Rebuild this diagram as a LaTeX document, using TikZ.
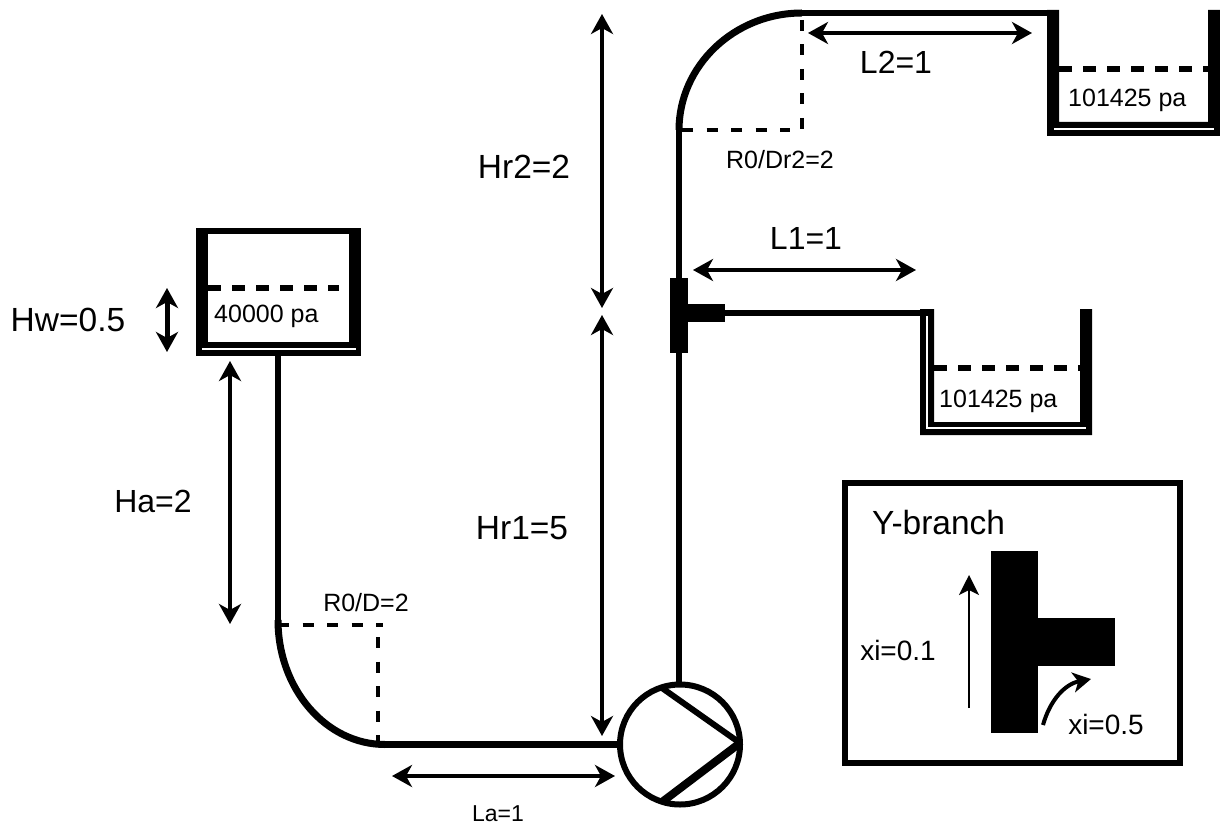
\documentclass[tikz,border=0pt]{standalone}
\usepackage{fontspec}
\setmainfont{Liberation Sans}
\usetikzlibrary{arrows.meta}
\tikzset{
  pipe/.style={line width=6.5pt,line cap=butt},
  bendpipe/.style={line width=7pt,line cap=butt},
  wall/.style={fill=black},
  gapline/.style={draw=white,line width=1.6pt},
  level/.style={line width=6pt,dash pattern=on 13pt off 11pt},
  guide/.style={line width=3.2pt,dash pattern=on 11pt off 13.5pt},
  dimbig/.style={line width=5pt,{Stealth[length=20pt,width=22pt,inset=6pt]}-{Stealth[length=20pt,width=22pt,inset=6pt]}},
  dimmid/.style={line width=3.6pt,{Stealth[length=20pt,width=22pt,inset=6pt]}-{Stealth[length=20pt,width=22pt,inset=6pt]}},
  big/.style={inner sep=0pt,font=\fontsize{32}{36}\selectfont},
  bigger/.style={inner sep=0pt,font=\fontsize{33.5}{38}\selectfont},
  mid/.style={inner sep=0pt,font=\fontsize{28}{32}\selectfont},
  small/.style={inner sep=0pt,font=\fontsize{25}{30}\selectfont},
  tiny/.style={inner sep=0pt,font=\fontsize{23}{28}\selectfont},
}
\begin{document}
\begin{tikzpicture}[x=1pt,y=-1pt]
\useasboundingbox (0,0) rectangle (1220,826);
% coordinates
\coordinate (tankout) at (278,356);
\coordinate (bendA) at (278,620);
\coordinate (bendB) at (385,744.5);
\coordinate (teeLow) at (679,353);
\coordinate (teeTop) at (679,278);
\coordinate (bendC) at (679,130);
\coordinate (bendD) at (802,13);
\coordinate (teeSide) at (725,313);
\coordinate (lowTank) at (934,313);
\coordinate (highTank) at (1047,13);
% left tank
\fill[wall] (196,228) rectangle (361,356);
\fill[white] (208,234) rectangle (349,342);
\draw[gapline] (202,349) -- (356,349);
\draw[level] (208,288) -- (339,288);
\node[small,anchor=west] (pL) at (214,316) {40000 pa};
% lower right tank
\fill[wall] (920,309) -- (934,309) -- (934,422) -- (1080,422) -- (1080,309) -- (1092,309) -- (1092,435) -- (920,435) -- cycle;
\draw[gapline] (927,316) -- (927,428) -- (1086,428);
\draw[level] (934,368) -- (1080,368);
\node[small,anchor=west] (pM) at (939,401) {101425 pa};
% upper right tank
\fill[wall] (1047,10) -- (1059,10) -- (1059,122) -- (1208,122) -- (1208,10) -- (1220,10) -- (1220,136) -- (1047,136) -- cycle;
\draw[gapline] (1054,129) -- (1214,129);
\draw[level] (1059,69) -- (1208,69);
\node[small,anchor=west] (pH) at (1068,100) {101425 pa};
% pump
\node[circle,draw,line width=6pt,minimum size=120pt,inner sep=0pt] (pump) at (680,744.5) {};
\coordinate (t1) at (662,688);
\coordinate (t2) at (740,743);
\coordinate (t3) at (662,802);
\draw[line width=6pt] (t1) -- (t2);
\draw[line width=8pt] (t2) -- (t3);
% pipes
\draw[pipe] (tankout) -- (bendA);
\draw[bendpipe] (bendA) .. controls (278,689) and (326,744.5) .. (bendB);
\draw[pipe] (bendB) -- (pump.west);
\draw[pipe] (pump.north -| teeLow) -- (teeLow);
\draw[pipe] (teeTop) -- (bendC);
\draw[bendpipe] (bendC) .. controls (679,66) and (734,13) .. (bendD);
\draw[pipe] (bendD) -- (highTank);
\draw[pipe] (teeSide) -- (lowTank);
% tee
\fill[wall] (670,278) rectangle (688,353);
\fill[wall] (688,304) rectangle (725,322);
% guides
\coordinate (gA1) at (278,625);
\coordinate (gA2) at (383,625);
\coordinate (gA3) at (378,637);
\coordinate (gA4) at (378,745);
\coordinate (gB1) at (682,130);
\coordinate (gB2) at (790,130);
\coordinate (gB3) at (802,20);
\coordinate (gB4) at (802,131);
\draw[guide] (gA1) -- (gA2);
\draw[guide] (gA3) -- (gA4);
\draw[guide] (gB1) -- (gB2);
\draw[guide] (gB3) -- (gB4);
% dimensions
\coordinate (hwA) at (167,288); \coordinate (hwB) at (167,352);
\coordinate (haA) at (230,361); \coordinate (haB) at (230,624);
\coordinate (r1A) at (602,315); \coordinate (r1B) at (602,736);
\coordinate (r2A) at (602,14);  \coordinate (r2B) at (602,308);
\coordinate (laA) at (392,776); \coordinate (laB) at (615,776);
\coordinate (l1A) at (693,270); \coordinate (l1B) at (916,270);
\coordinate (l2A) at (808,33);  \coordinate (l2B) at (1032,33);
\draw[dimbig] (hwA) -- (hwB);
\draw[dimmid] (haA) -- (haB);
\draw[dimmid] (r1A) -- (r1B);
\draw[dimmid] (r2A) -- (r2B);
\draw[dimmid] (laA) -- (laB);
\draw[dimmid] (l1A) -- (l1B);
\draw[dimmid] (l2A) -- (l2B);
% labels
\node[bigger] (hw) at (68,320) {Hw=0.5};
\node[big] (ha) at (153,501) {Ha=2};
\node[bigger] (r1) at (522,528) {Hr1=5};
\node[bigger] (r2) at (524,167) {Hr2=2};
\node[big] (l1) at (806,238) {L1=1};
\node[big] (l2) at (896,62) {L2=1};
\node[small] (r0) at (366,603) {R0/D=2};
\node[small] (r0b) at (780,160) {R0/Dr2=2};
\node[tiny] (la) at (498,814) {La=1};
% Y-branch box
\draw[line width=6pt] (845,483) rectangle (1180,763);
\fill[wall] (991,551) rectangle (1038,733);
\fill[wall] (1038,618) rectangle (1115,666);
\node[bigger,anchor=west] (yb) at (872,523) {Y-branch};
\node[mid] (x1) at (898,650) {xi=0.1};
\node[mid] (x5) at (1106,724) {xi=0.5};
\coordinate (a1) at (969,708); \coordinate (a2) at (969,575);
\coordinate (c1) at (1043,725); \coordinate (c2) at (1091,679);
\draw[line width=2.8pt,-{Stealth[length=20pt,width=20pt,inset=5pt]}] (a1) -- (a2);
\draw[line width=4pt,-{Stealth[length=18pt,width=20pt,inset=5pt]}] (c1) .. controls (1050,700) and (1065,684) .. (c2);
\end{tikzpicture}
\end{document}
